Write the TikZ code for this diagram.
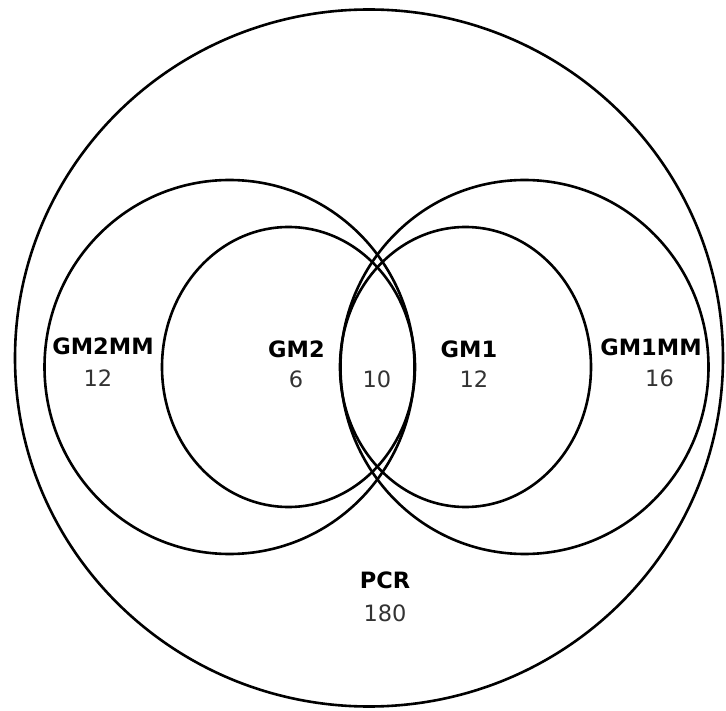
\documentclass[tikz,border=0pt]{standalone}
\usepackage{fontspec}
\setmainfont{DejaVu Sans}
\definecolor{numgray}{HTML}{333333}
\tikzset{
  ring/.style={draw=black, line width=2.6pt},
  setname/.style={font=\fontsize{22.5}{26}\selectfont\bfseries, text=black, inner sep=0pt},
  setcount/.style={font=\fontsize{22.5}{26}\selectfont, text=numgray, inner sep=0pt}
}
\begin{document}
\begin{tikzpicture}[x=1pt, y=-1pt]
  \useasboundingbox (0,0) rectangle (726,711);
  % outer set
  \draw[ring] (369,358) ellipse [x radius=354, y radius=348.5];
  % outer pair of sets
  \draw[ring] (229.5,367) ellipse [x radius=185, y radius=187];
  \draw[ring] (524.5,367) ellipse [x radius=184, y radius=187];
  % inner pair of sets
  \draw[ring] (288.5,367) ellipse [x radius=126.5, y radius=140];
  \draw[ring] (465.5,367) ellipse [x radius=125.5, y radius=140];
  % labels and counts
  \node[setname]  (gm2mm)  at (103,346) {GM2MM};
  \node[setcount] (n2mm)   at (98,378)  {12};
  \node[setname]  (gm2)    at (296.5,349) {GM2};
  \node[setcount] (n2)     at (296,379) {6};
  \node[setcount] (nboth)  at (377,379) {10};
  \node[setname]  (gm1)    at (469,349) {GM1};
  \node[setcount] (n1)     at (474,379) {12};
  \node[setname]  (gm1mm)  at (651,347) {GM1MM};
  \node[setcount] (n1mm)   at (659.5,378) {16};
  \node[setname]  (pcr)    at (385,580) {PCR};
  \node[setcount] (npcr)   at (385,613) {180};
\end{tikzpicture}
\end{document}
